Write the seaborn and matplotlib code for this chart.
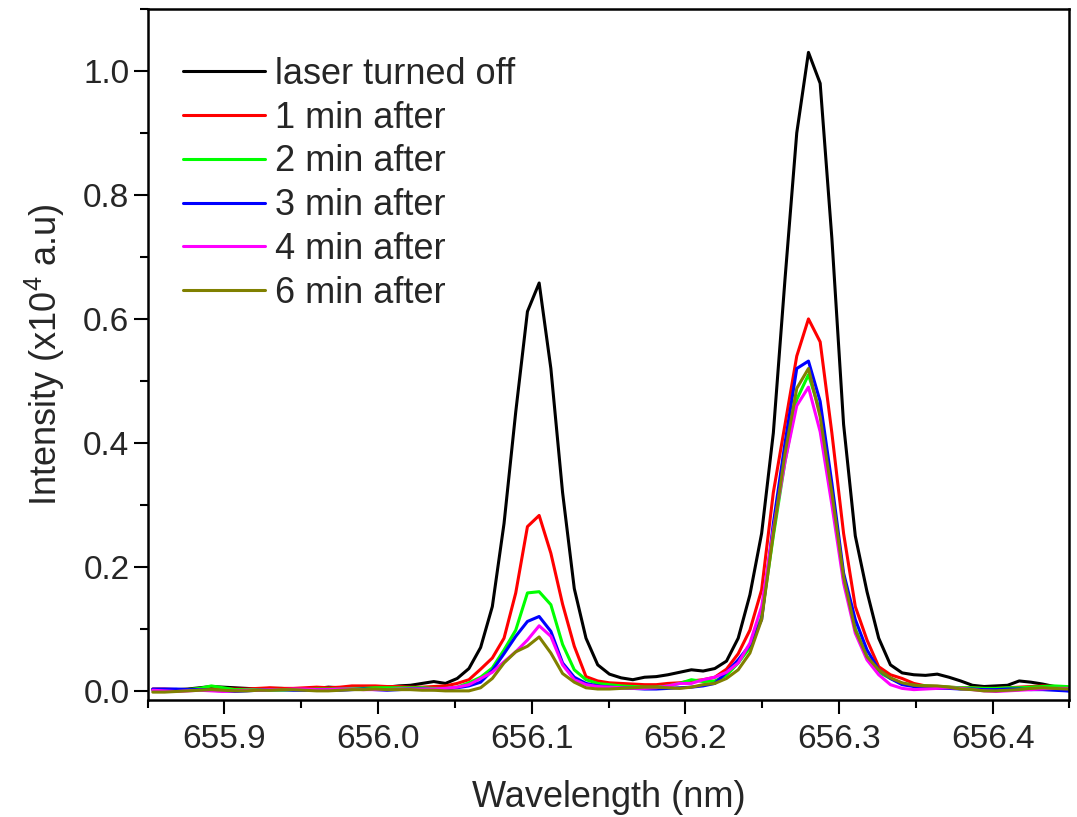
import numpy as np
import pandas as pd
import matplotlib
matplotlib.use("Agg")
import matplotlib.pyplot as plt
import seaborn as sns
from matplotlib.ticker import MultipleLocator

# ---- data (intensity in units of 1e4 a.u.) ----
wavelength = np.linspace(655.8534, 656.4554, 80)

laser_off = [0.002, 0.002, 0.002, 0.003, 0.005, 0.007, 0.006, 0.005, 0.004, 0.003,
             0.004, 0.004, 0.003, 0.002, 0.004, 0.006, 0.005, 0.004, 0.004, 0.005,
             0.006, 0.008, 0.009, 0.012, 0.015, 0.012, 0.020, 0.036, 0.070, 0.136,
             0.270, 0.450, 0.612, 0.658, 0.520, 0.320, 0.165, 0.085, 0.042, 0.027,
             0.021, 0.018, 0.022, 0.023, 0.026, 0.030, 0.034, 0.032, 0.036, 0.048,
             0.085, 0.155, 0.254, 0.416, 0.665, 0.900, 1.030, 0.980, 0.730, 0.430,
             0.250, 0.160, 0.085, 0.042, 0.029, 0.026, 0.025, 0.027, 0.022, 0.016,
             0.009, 0.007, 0.008, 0.009, 0.016, 0.014, 0.011, 0.007, 0.003, 0.002]

min1 = [0.003, 0.003, 0.002, 0.002, 0.003, 0.003, 0.004, 0.003, 0.003, 0.004,
        0.005, 0.004, 0.004, 0.005, 0.006, 0.005, 0.006, 0.008, 0.008, 0.008,
        0.007, 0.007, 0.006, 0.006, 0.007, 0.008, 0.012, 0.018, 0.035, 0.053,
        0.085, 0.158, 0.265, 0.283, 0.222, 0.140, 0.072, 0.023, 0.016, 0.013,
        0.012, 0.011, 0.010, 0.010, 0.012, 0.013, 0.016, 0.018, 0.022, 0.035,
        0.060, 0.098, 0.163, 0.320, 0.430, 0.540, 0.600, 0.563, 0.416, 0.254,
        0.136, 0.082, 0.039, 0.026, 0.020, 0.012, 0.008, 0.007, 0.006, 0.005,
        0.005, 0.004, 0.004, 0.005, 0.006, 0.007, 0.008, 0.007, 0.005, 0.003]

min2 = [0.001, 0.001, 0.002, 0.002, 0.004, 0.008, 0.005, 0.002, 0.002, 0.002,
        0.001, 0.001, 0.002, 0.002, 0.003, 0.003, 0.003, 0.004, 0.004, 0.005,
        0.005, 0.005, 0.005, 0.005, 0.004, 0.004, 0.006, 0.013, 0.022, 0.037,
        0.066, 0.098, 0.158, 0.160, 0.139, 0.075, 0.034, 0.018, 0.012, 0.010,
        0.008, 0.007, 0.006, 0.006, 0.008, 0.012, 0.018, 0.015, 0.016, 0.025,
        0.045, 0.070, 0.120, 0.250, 0.370, 0.470, 0.510, 0.450, 0.320, 0.180,
        0.100, 0.055, 0.030, 0.020, 0.012, 0.009, 0.008, 0.007, 0.006, 0.005,
        0.005, 0.004, 0.004, 0.005, 0.005, 0.006, 0.007, 0.008, 0.007, 0.006]

min3 = [0.003, 0.003, 0.003, 0.002, 0.002, 0.001, 0.000, -0.001, 0.000, 0.001,
        0.002, 0.002, 0.001, 0.001, 0.002, 0.002, 0.001, 0.002, 0.003, 0.002,
        0.001, 0.002, 0.003, 0.003, 0.002, 0.003, 0.005, 0.008, 0.014, 0.033,
        0.060, 0.088, 0.112, 0.120, 0.096, 0.045, 0.022, 0.012, 0.008, 0.006,
        0.005, 0.004, 0.003, 0.003, 0.004, 0.005, 0.006, 0.008, 0.012, 0.030,
        0.050, 0.074, 0.115, 0.270, 0.400, 0.520, 0.532, 0.467, 0.335, 0.190,
        0.115, 0.066, 0.034, 0.020, 0.010, 0.007, 0.005, 0.004, 0.004, 0.003,
        0.003, 0.002, 0.002, 0.003, 0.003, 0.002, 0.002, 0.001, 0.000, -0.002]

min4 = [0.001, 0.000, -0.001, 0.000, 0.001, 0.000, -0.001, 0.000, 0.001, 0.001,
        0.002, 0.002, 0.003, 0.003, 0.002, 0.002, 0.003, 0.003, 0.002, 0.002,
        0.002, 0.003, 0.003, 0.003, 0.003, 0.004, 0.006, 0.010, 0.020, 0.030,
        0.047, 0.063, 0.082, 0.105, 0.088, 0.042, 0.018, 0.010, 0.007, 0.006,
        0.005, 0.004, 0.004, 0.005, 0.008, 0.012, 0.012, 0.018, 0.022, 0.030,
        0.045, 0.077, 0.136, 0.260, 0.370, 0.460, 0.490, 0.418, 0.300, 0.174,
        0.093, 0.050, 0.026, 0.010, 0.004, 0.002, 0.003, 0.004, 0.005, 0.004,
        0.002, 0.000, -0.001, 0.000, 0.001, 0.002, 0.003, 0.004, 0.004, 0.003]

min6 = [-0.002, -0.002, -0.001, 0.000, 0.001, 0.002, 0.001, 0.000, 0.000, 0.001,
        0.001, 0.002, 0.002, 0.001, 0.000, 0.000, 0.001, 0.002, 0.002, 0.003,
        0.002, 0.002, 0.002, 0.001, 0.001, 0.000, 0.000, 0.000, 0.005, 0.020,
        0.045, 0.063, 0.072, 0.087, 0.061, 0.028, 0.014, 0.005, 0.003, 0.003,
        0.004, 0.005, 0.006, 0.006, 0.005, 0.004, 0.006, 0.010, 0.012, 0.020,
        0.034, 0.061, 0.115, 0.254, 0.383, 0.488, 0.520, 0.442, 0.319, 0.184,
        0.098, 0.055, 0.034, 0.021, 0.013, 0.009, 0.008, 0.008, 0.006, 0.003,
        0.002, 0.000, 0.000, 0.001, 0.002, 0.004, 0.005, 0.004, 0.003, 0.003]

series_names = ["laser turned off", "1 min after", "2 min after",
                "3 min after", "4 min after", "6 min after"]
series_values = [laser_off, min1, min2, min3, min4, min6]
series_colors = ["#000000", "#FF0000", "#00FF00", "#0000FF", "#FF00FF", "#808000"]

x_ticks = [655.9, 656.0, 656.1, 656.2, 656.3, 656.4]
y_ticks = [0.0, 0.2, 0.4, 0.6, 0.8, 1.0]

# ---- long-form table ----
frames = []
for name, vals in zip(series_names, series_values):
    frames.append(pd.DataFrame({"Wavelength": wavelength,
                                "Intensity": vals,
                                "Series": name}))
df = pd.concat(frames, ignore_index=True)

# ---- style ----
sns.set_style("ticks")
plt.rcParams["font.family"] = ["Liberation Sans", "DejaVu Sans"]
plt.rcParams["mathtext.fontset"] = "custom"
plt.rcParams["mathtext.rm"] = "Liberation Sans"
plt.rcParams["mathtext.it"] = "Liberation Sans:italic"
plt.rcParams["mathtext.bf"] = "Liberation Sans:bold"

fig = plt.figure(figsize=(10.77, 8.17), dpi=100)
ax = fig.add_axes([0.137, 0.143, 0.856, 0.846])

sns.lineplot(data=df, x="Wavelength", y="Intensity", hue="Series",
             hue_order=series_names, palette=series_colors,
             estimator=None, sort=False, linewidth=2.2, ax=ax)

ax.set_xlim(655.85, 656.45)
ax.set_ylim(-0.015, 1.10)
ax.set_xticks(x_ticks)
ax.set_xticklabels([f"{t:.1f}" for t in x_ticks])
ax.set_yticks(y_ticks)
ax.set_yticklabels([f"{t:.1f}" for t in y_ticks])
ax.xaxis.set_minor_locator(MultipleLocator(0.05))
ax.yaxis.set_minor_locator(MultipleLocator(0.1))

ax.tick_params(axis="both", which="major", direction="out", length=10,
               width=1.5, labelsize=24, color="black")
ax.tick_params(axis="x", which="major", pad=7)
ax.tick_params(axis="y", which="major", pad=3)
ax.tick_params(axis="both", which="minor", direction="out", length=6,
               width=1.5, color="black")
ax.tick_params(top=False, right=False, which="both")
for side in ["left", "right", "top", "bottom"]:
    ax.spines[side].set_visible(True)
    ax.spines[side].set_linewidth(1.8)
    ax.spines[side].set_color("black")

ax.set_xlabel("Wavelength (nm)", fontsize=26, labelpad=18)
ax.set_ylabel("Intensity (x10$^{4}$ a.u)", fontsize=26, labelpad=12)

leg = ax.legend(loc="upper left", bbox_to_anchor=(0.038, 0.931),
                frameon=False, fontsize=26, handlelength=2.28,
                handletextpad=0.28, labelspacing=0.245, borderpad=0,
                borderaxespad=0)
for line in leg.get_lines():
    line.set_linewidth(2.2)

fig.savefig("out.png", dpi=100)
